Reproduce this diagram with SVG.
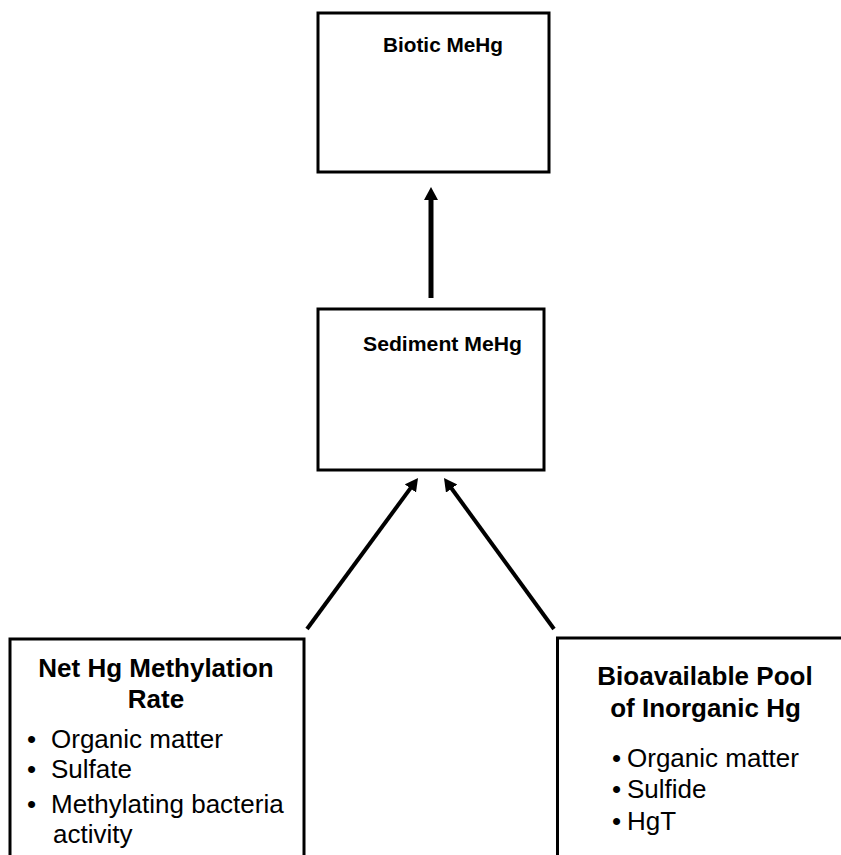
<svg xmlns="http://www.w3.org/2000/svg" width="841" height="855" viewBox="0 0 841 855">
<style>
.box{fill:#fff;stroke:#000;stroke-width:3}
.t{font-family:"Liberation Sans",Arial,sans-serif;fill:#000}
.b{font-weight:bold}
.conn{stroke:#000;fill:none}
</style>
<defs>
<marker id="ah" markerUnits="userSpaceOnUse" markerWidth="16" markerHeight="16" refX="5" refY="7" orient="auto">
<path d="M0,0 L13,7 L0,14 z" fill="#000"/>
</marker>
</defs>
<rect width="841" height="855" fill="#fff"/>
<g id="biotic">
<rect class="box" x="318" y="13" width="231" height="159"/>
<text class="t b" x="383" y="52" font-size="20" textLength="120" lengthAdjust="spacingAndGlyphs">Biotic MeHg</text>
</g>
<g id="sediment">
<rect class="box" x="318" y="309" width="226" height="161"/>
<text class="t b" x="363" y="351" font-size="20" textLength="159" lengthAdjust="spacingAndGlyphs">Sediment MeHg</text>
</g>
<g id="methylation">
<rect class="box" x="10" y="639" width="294" height="240"/>
<text class="t b" x="156" y="677" font-size="26" text-anchor="middle">Net Hg Methylation</text>
<text class="t b" x="156" y="708" font-size="26" text-anchor="middle">Rate</text>
<text class="t" x="31.5" y="748" font-size="26" text-anchor="middle">•</text>
<text class="t" x="51" y="748" font-size="26">Organic matter</text>
<text class="t" x="31.5" y="778" font-size="26" text-anchor="middle">•</text>
<text class="t" x="51" y="778" font-size="26">Sulfate</text>
<text class="t" x="31.5" y="813" font-size="26" text-anchor="middle">•</text>
<text class="t" x="51" y="813" font-size="26">Methylating bacteria</text>
<text class="t" x="53" y="843" font-size="26">activity</text>
</g>
<g id="bioavailable">
<rect class="box" x="557.5" y="638" width="300" height="240"/>
<text class="t b" x="705" y="685" font-size="26" text-anchor="middle">Bioavailable Pool</text>
<text class="t b" x="705.5" y="717" font-size="26" text-anchor="middle">of Inorganic Hg</text>
<text class="t" x="616.5" y="767" font-size="26" text-anchor="middle">•</text>
<text class="t" x="627" y="767" font-size="26">Organic matter</text>
<text class="t" x="616.5" y="798" font-size="26" text-anchor="middle">•</text>
<text class="t" x="627" y="798" font-size="26">Sulfide</text>
<text class="t" x="616.5" y="830" font-size="26" text-anchor="middle">•</text>
<text class="t" x="627" y="830" font-size="26">HgT</text>
</g>
<g id="connectors">
<line class="conn" x1="431" y1="298" x2="431" y2="195" stroke-width="5" marker-end="url(#ah)"/>
<line class="conn" x1="307" y1="629" x2="413.3" y2="484.4" stroke-width="4" marker-end="url(#ah)"/>
<line class="conn" x1="554" y1="629" x2="448.7" y2="484.5" stroke-width="4" marker-end="url(#ah)"/>
</g>
</svg>
